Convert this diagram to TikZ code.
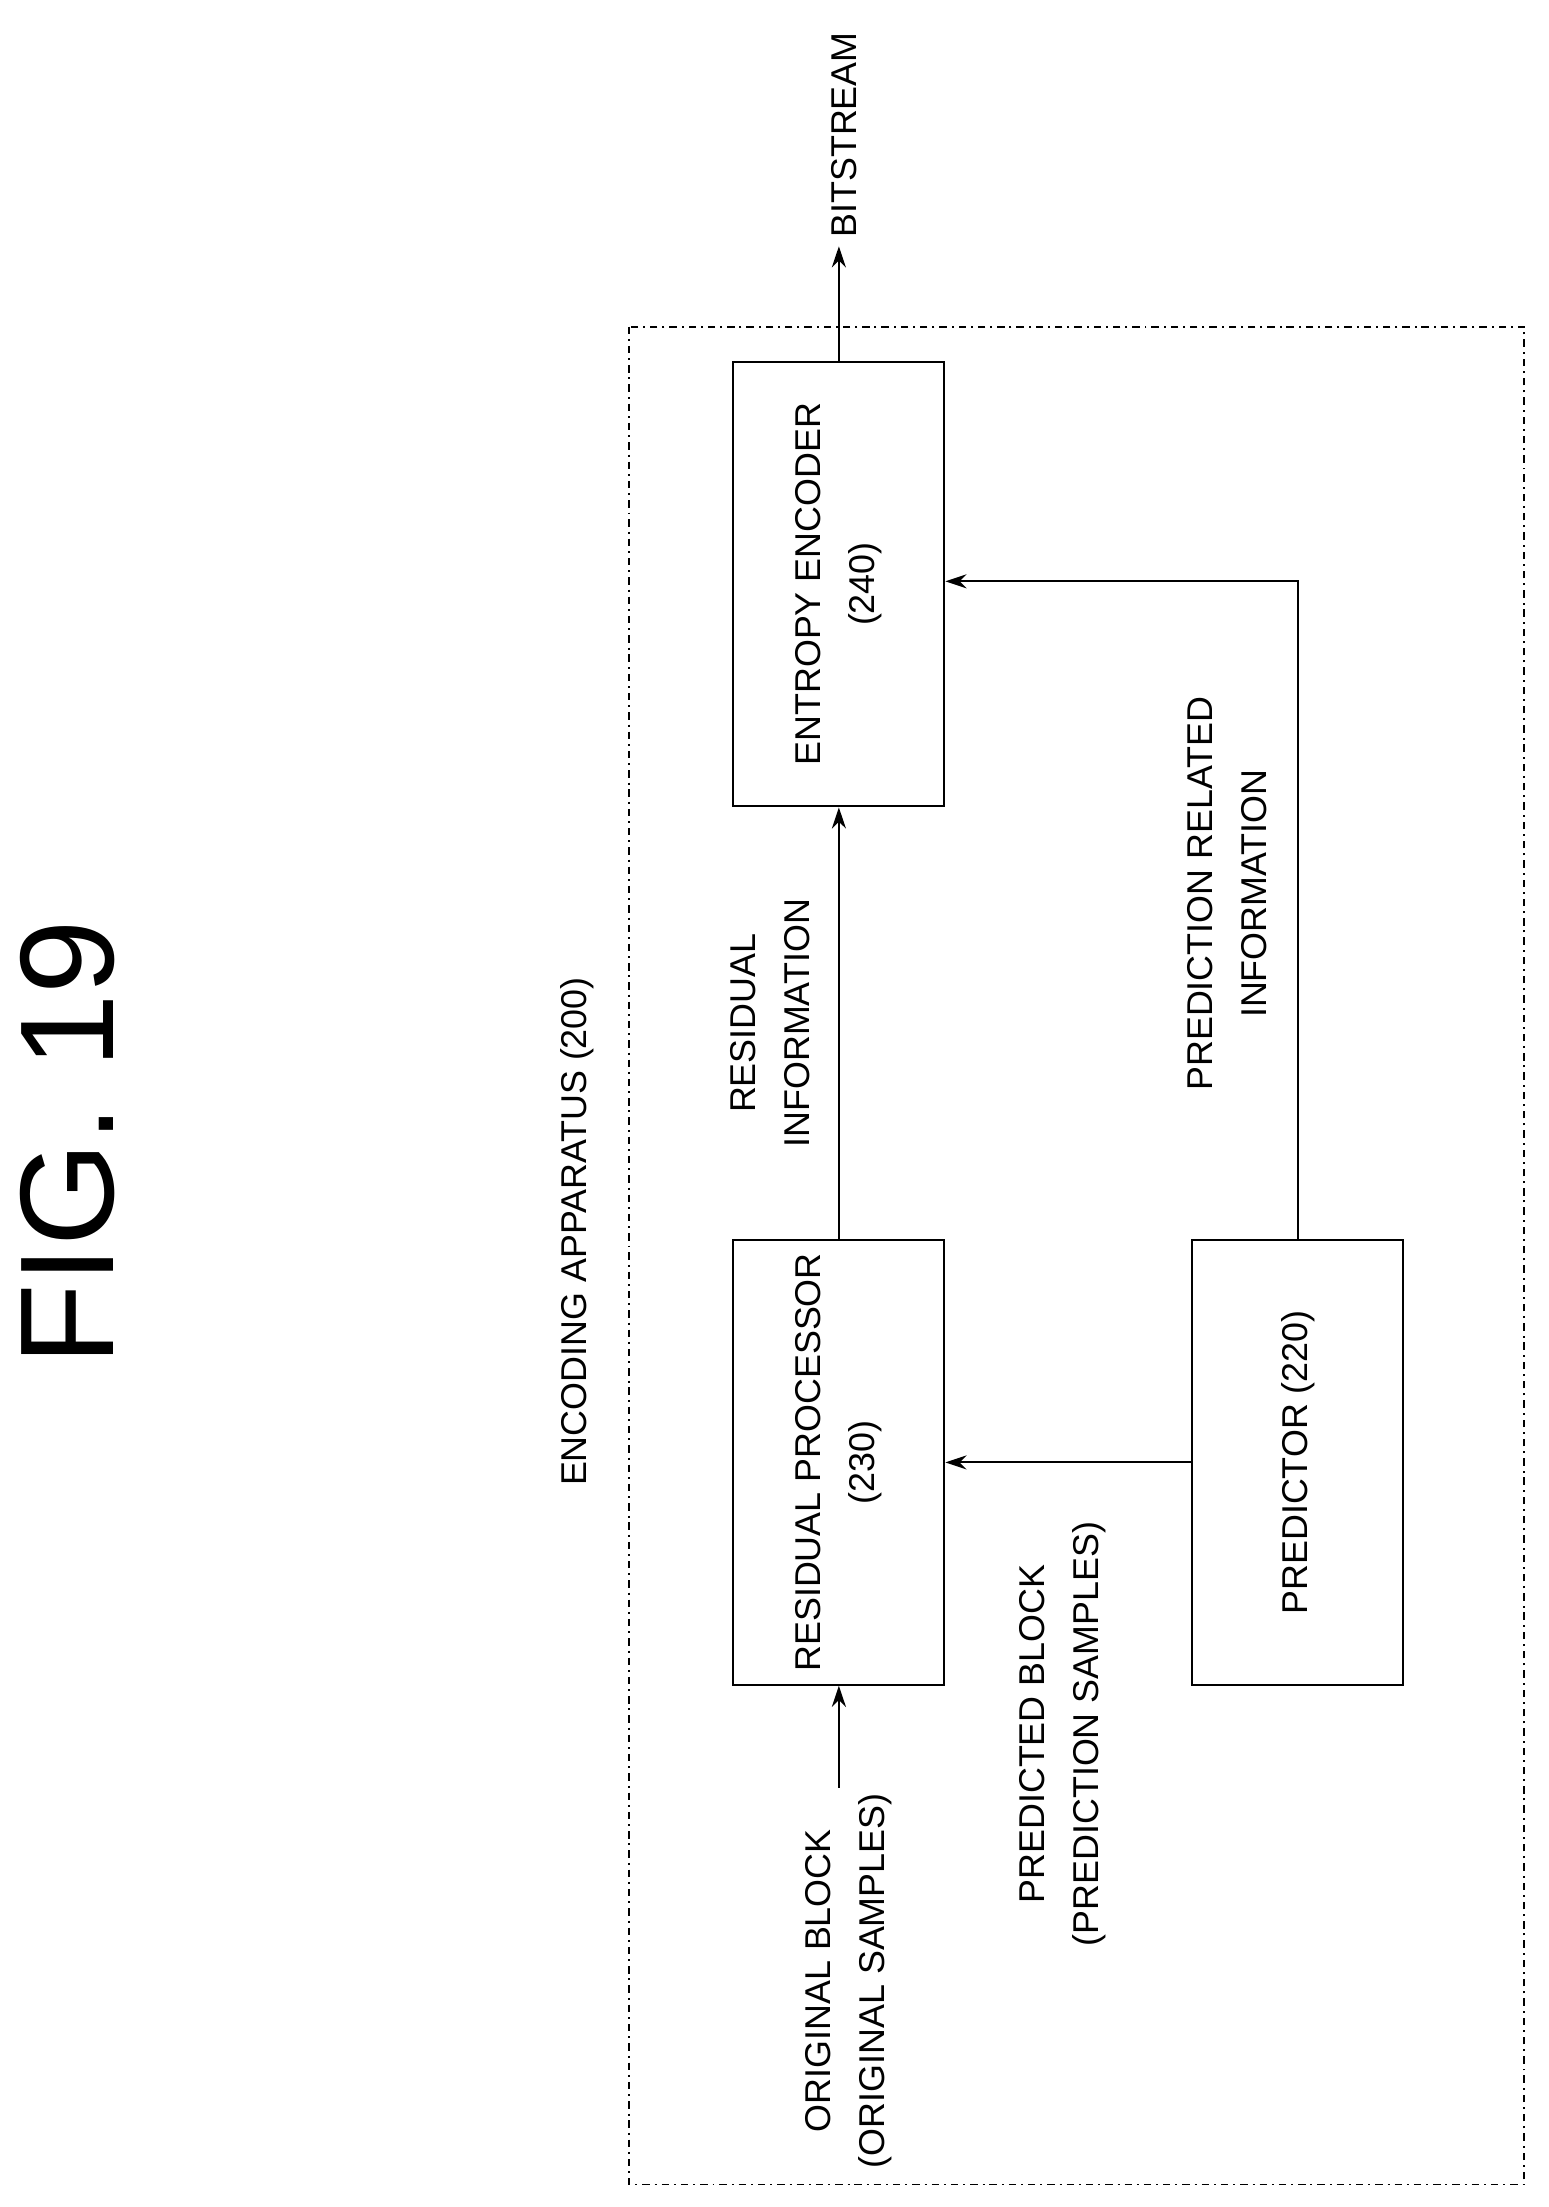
\documentclass[tikz,border=0pt]{standalone}
\usepackage{fontspec}
\setmainfont{Liberation Sans}
\usetikzlibrary{arrows.meta, positioning}
\tikzstyle{block}=[rectangle, draw, thick, minimum width=6.32cm, minimum height=3cm, rotate=90, align=center, font=\fontsize{14.5}{22}\selectfont]
\tikzstyle{lbl}=[rotate=90, align=center, font=\fontsize{14.5}{22}\selectfont]
\tikzstyle{flow}=[thick, -{Stealth[length=3mm, width=2mm]}]

\begin{document}
\begin{tikzpicture}[x=0.02cm, y=-0.02cm]
    \useasboundingbox (0,0) rectangle (1100,1568);
    % Frame:
    \draw[thick, dash dot] (447,232) rectangle (1083,1552);
    \node[lbl] (app) at (410,875) {ENCODING APPARATUS (200)};
    \node[rotate=90, font=\fontsize{54}{60}\selectfont] (fig) at (48,812) {FIG. 19};

    % Blocks:
    \node[block] (ent) at (596,415) {ENTROPY ENCODER\\(240)};
    \node[block] (res) at (596,1039) {RESIDUAL PROCESSOR\\(230)};
    \node[block] (pred) at (922,1039) {PREDICTOR (220)};

    % Output:
    \node[lbl, anchor=west] (bits) at (600,175) {BITSTREAM};
    \draw[flow] (ent.east) -- (bits.west -| ent.east);

    % Input:
    \node[lbl, anchor=east] (orig) at (603,1268) {ORIGINAL BLOCK\\(ORIGINAL SAMPLES)};
    \coordinate (in) at (596,1270);
    \draw[flow] (in) -- (res.west);

    % Links:
    \draw[flow] (res.east) -- (ent.west);
    \node[lbl] (resinfo) at (547,727) {RESIDUAL\\INFORMATION};
    \draw[flow] (pred.north) -- (res.south |- pred.north);
    \node[lbl] (pblk) at (755,1232) {PREDICTED BLOCK\\(PREDICTION SAMPLES)};
    \draw[flow] (pred.east) |- (ent.south |- 0,413);
    \node[lbl] (prinfo) at (872,635) {PREDICTION RELATED\\INFORMATION};
\end{tikzpicture}
\end{document}
